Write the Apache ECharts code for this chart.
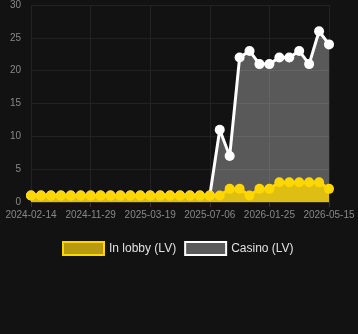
<!DOCTYPE html>
<html><head><meta charset="utf-8">
<script src="https://cdn.jsdelivr.net/npm/echarts@6/dist/echarts.min.js"></script>
<style>html,body{margin:0;padding:0;background:#121212;}#c{width:358px;height:334px;}</style>
</head><body><div id="c"></div>
<script>
const dates = ['2024-02-14','2024-03-20','2024-05-02','2024-06-18','2024-08-07','2024-10-11','2024-11-29','2024-12-20','2025-01-10','2025-01-31','2025-02-19','2025-03-05','2025-03-19','2025-04-06','2025-04-24','2025-05-13','2025-05-31','2025-06-18','2025-07-06','2025-08-10','2025-09-14','2025-10-09','2025-11-03','2025-11-28','2026-01-25','2026-02-14','2026-03-06','2026-03-24','2026-04-10','2026-04-28','2026-05-15'];
const lobby = [1,1,1,1,1,1,1,1,1,1,1,1,1,1,1,1,1,1,1,1,2,2,1,2,2,3,3,3,3,3,2];
const casino = [1,1,1,1,1,1,1,1,1,1,1,1,1,1,1,1,1,1,1,11,7,22,23,21,21,22,22,23,21,26,24];
const yTicks = {min:0, max:30, interval:5};
const chart = echarts.init(document.getElementById('c'));
chart.setOption({
  backgroundColor:'#121212',
  animation:false,
  grid:{left:31,right:29,top:5,bottom:132},
  legend:{
    top:236, left:57, itemWidth:41, itemHeight:13, itemGap:8,
    icon:'rect',
    textStyle:{color:'#e0e0e0', fontSize:12, fontFamily:'Arial, Liberation Sans, sans-serif'},
    data:[
      {name:'In lobby (LV)', itemStyle:{color:'#b8990f', borderColor:'#ffd700', borderWidth:2}},
      {name:'Casino (LV)', itemStyle:{color:'#5b5b5b', borderColor:'#ffffff', borderWidth:2}}
    ]
  },
  xAxis:{
    type:'category', data:dates, boundaryGap:false,
    axisLine:{lineStyle:{color:'#333'}},
    axisTick:{show:true, interval:5, lineStyle:{color:'#333'}},
    axisLabel:{interval:5, color:'#888', fontSize:10, fontFamily:'Arial, Liberation Sans, sans-serif', margin:8},
    splitLine:{show:true, interval:5, lineStyle:{color:'#222'}}
  },
  yAxis:{
    type:'value', min:yTicks.min, max:yTicks.max, interval:yTicks.interval,
    axisLine:{show:false}, axisTick:{show:false},
    axisLabel:{color:'#888', fontSize:10, fontFamily:'Arial, Liberation Sans, sans-serif', margin:10},
    splitLine:{lineStyle:{color:'#222'}}
  },
  series:[
    {name:'Casino (LV)', type:'line', data:casino, symbol:'circle', symbolSize:10, showAllSymbol:true,
      itemStyle:{color:'#ffffff'}, lineStyle:{color:'#ffffff', width:3},
      areaStyle:{color:'#ffffff', opacity:0.3}, z:2},
    {name:'In lobby (LV)', type:'line', data:lobby, symbol:'circle', symbolSize:10, showAllSymbol:true,
      itemStyle:{color:'#ffd700'}, lineStyle:{color:'#ffd700', width:3},
      areaStyle:{color:'#ffd700', opacity:0.8}, z:3}
  ]
});
</script></body></html>
